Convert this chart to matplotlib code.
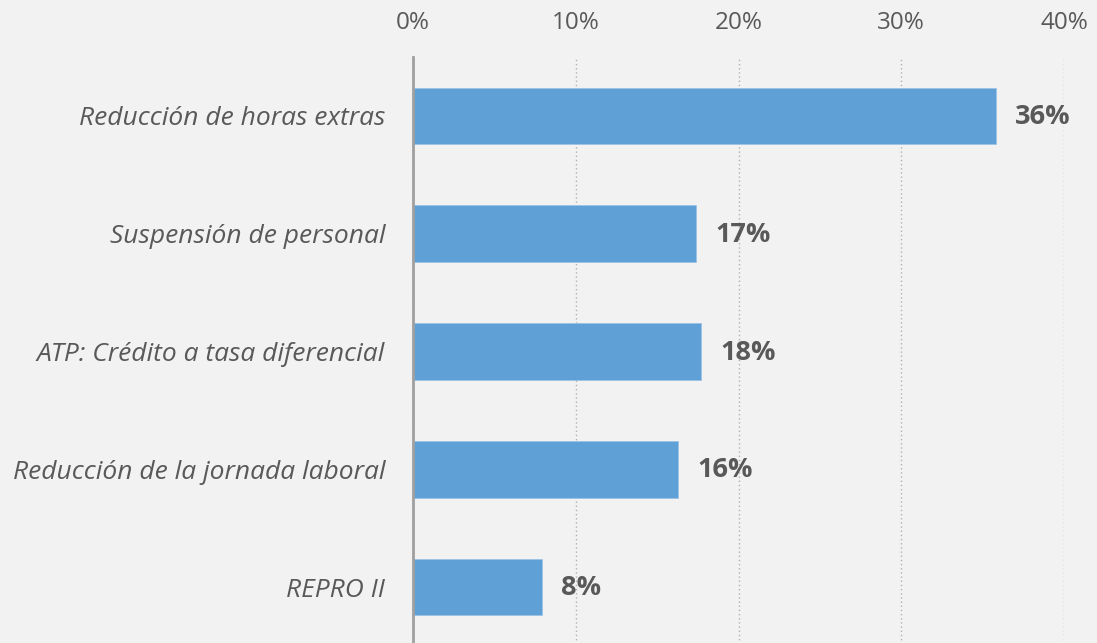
import matplotlib.pyplot as plt
from matplotlib.ticker import FuncFormatter

# datos
categorias = ['Reducción de horas extras', 'Suspensión de personal',
              'ATP: Crédito a tasa diferencial', 'Reducción de la jornada laboral',
              'REPRO II']
valores = [35.8, 17.4, 17.7, 16.3, 7.9]
etiquetas = ['36%', '17%', '18%', '16%', '8%']
ticks_x = [0, 10, 20, 30, 40]

fondo = '#f2f2f2'
gris_texto = '#595959'
azul = '#5fa0d6'

plt.rcParams['font.family'] = ['Open Sans', 'DejaVu Sans']

fig = plt.figure(figsize=(10.97, 6.43), dpi=100, facecolor=fondo)
ax = fig.add_axes([413 / 1097, -3 / 643, 651 / 1097, 589 / 643])
ax.set_facecolor(fondo)

pos = list(range(len(categorias)))
ax.barh(pos, valores, height=0.48, color=azul, edgecolor='#9dc3e6', linewidth=0.6, zorder=3)

for y, v, t in zip(pos, valores, etiquetas):
    ax.annotate(t, xy=(v, y), xytext=(19, -1), textcoords='offset pixels',
                ha='left', va='center', fontsize=19.5, fontweight='bold', color=gris_texto)

ax.set_ylim(4.5, -0.5)
ax.set_xlim(0, 40)
ax.set_xticks(ticks_x)
ax.xaxis.set_major_formatter(FuncFormatter(lambda x, p: f'{x:.0f}%'))
ax.xaxis.tick_top()
ax.tick_params(axis='x', length=0, pad=16, labelsize=17.5, labelcolor=gris_texto)
ax.set_yticks(pos)
ax.set_yticklabels(categorias, fontsize=19, style='italic', color=gris_texto)
ax.tick_params(axis='y', length=0, pad=20)

ax.grid(axis='x', linestyle=(0, (1, 2)), color='#b0b0b0', linewidth=1, zorder=0)
for s in ['top', 'right', 'bottom']:
    ax.spines[s].set_visible(False)
ax.spines['left'].set_color('#a0a0a0')
ax.spines['left'].set_linewidth(2)
ax.spines['left'].set_zorder(4)

fig.savefig('out.png', dpi=100, facecolor=fondo)
